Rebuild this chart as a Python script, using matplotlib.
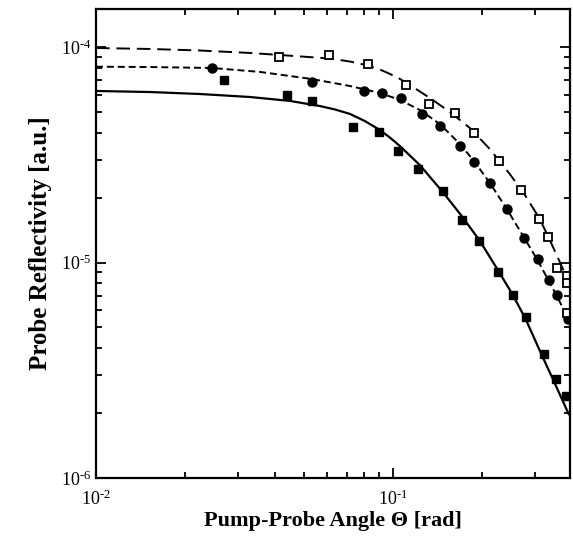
import matplotlib
matplotlib.use("Agg")
import matplotlib.pyplot as plt
from matplotlib.ticker import LogLocator, FixedLocator, FixedFormatter, NullFormatter

plt.rcParams['font.family'] = ['Liberation Serif', 'DejaVu Serif']
plt.rcParams['mathtext.fontset'] = 'custom'
plt.rcParams['mathtext.rm'] = 'Liberation Serif'
plt.rcParams['mathtext.it'] = 'Liberation Serif'

# ---- measured points ----
# open squares
x_open = [0.0413, 0.0607, 0.0822, 0.1106, 0.1325, 0.1613, 0.1870, 0.2280,
          0.2698, 0.3102, 0.3318, 0.3566, 0.3868, 0.3868, 0.3868]
y_open = [9.02e-5, 9.18e-5, 8.31e-5, 6.66e-5, 5.44e-5, 4.96e-5, 3.98e-5, 2.95e-5,
          2.16e-5, 1.59e-5, 1.31e-5, 9.38e-6, 8.66e-6, 8.03e-6, 5.81e-6]

# filled circles
x_circ = [0.0245, 0.0535, 0.0799, 0.0920, 0.1062, 0.1255, 0.1439, 0.1677,
          0.1870, 0.2126, 0.2420, 0.2768, 0.3084, 0.3352, 0.3566, 0.3883]
y_circ = [7.99e-5, 6.90e-5, 6.27e-5, 6.12e-5, 5.78e-5, 4.90e-5, 4.30e-5, 3.46e-5,
          2.93e-5, 2.33e-5, 1.77e-5, 1.30e-5, 1.04e-5, 8.27e-6, 7.09e-6, 5.45e-6]

# filled squares
x_sq = [0.0270, 0.0439, 0.0535, 0.0732, 0.0899, 0.1042, 0.1211, 0.1474,
        0.1707, 0.1948, 0.2252, 0.2529, 0.2804, 0.3232, 0.3530, 0.3815]
y_sq = [7.00e-5, 6.01e-5, 5.60e-5, 4.25e-5, 4.02e-5, 3.30e-5, 2.71e-5, 2.15e-5,
        1.58e-5, 1.26e-5, 9.03e-6, 7.04e-6, 5.59e-6, 3.76e-6, 2.88e-6, 2.40e-6]

# ---- fitted curves ----
x_fit_long = [0.0100, 0.0152, 0.0224, 0.0330, 0.0416, 0.0614, 0.0717, 0.0824, 0.0904, 0.0977,
              0.1056, 0.1141, 0.1332, 0.1556, 0.1817, 0.2121, 0.2477, 0.2783, 0.3126, 0.3377,
              0.3650, 0.3920]
y_fit_long = [9.89e-5, 9.79e-5, 9.63e-5, 9.38e-5, 9.18e-5, 8.84e-5, 8.56e-5, 8.21e-5, 7.86e-5, 7.50e-5,
              7.11e-5, 6.66e-5, 5.80e-5, 4.99e-5, 4.21e-5, 3.36e-5, 2.57e-5, 2.06e-5, 1.59e-5, 1.27e-5,
              1.005e-5, 8.03e-6]

x_fit_short = [0.0100, 0.0152, 0.0246, 0.0357, 0.0534, 0.0717, 0.0904, 0.1056, 0.1233,
               0.1439, 0.1681, 0.1874, 0.2121, 0.2420, 0.2761, 0.3078, 0.3352, 0.3566, 0.3914]
y_fit_short = [8.10e-5, 8.07e-5, 7.99e-5, 7.66e-5, 7.10e-5, 6.59e-5, 6.12e-5, 5.68e-5, 5.10e-5,
               4.39e-5, 3.55e-5, 2.96e-5, 2.34e-5, 1.77e-5, 1.31e-5, 1.02e-5, 8.20e-6, 6.99e-6, 5.41e-6]

x_fit_solid = [0.0100, 0.0152, 0.0224, 0.0330, 0.0450, 0.0568, 0.0638, 0.0717, 0.0805, 0.0904,
               0.0977, 0.1056, 0.1233, 0.1474, 0.1707, 0.1963, 0.2257, 0.2535, 0.2804, 0.3162,
               0.3457, 0.3910]
y_fit_solid = [6.25e-5, 6.18e-5, 6.05e-5, 5.86e-5, 5.62e-5, 5.32e-5, 5.13e-5, 4.89e-5, 4.53e-5, 4.12e-5,
               3.80e-5, 3.47e-5, 2.83e-5, 2.12e-5, 1.64e-5, 1.26e-5, 9.23e-6, 7.07e-6, 5.44e-6, 3.76e-6,
               2.88e-6, 1.98e-6]

xtick_vals = [0.01, 0.1]
xtick_text = ['$10^{\u20102}$', '$10^{\u20101}$']
ytick_vals = [1e-6, 1e-5, 1e-4]
ytick_text = ['$10^{\u20106}$', '$10^{\u20105}$', '$10^{\u20104}$']

fig = plt.figure(figsize=(5.73, 5.47), dpi=100)
ax = fig.add_axes([0.1675, 0.1261, 0.8273, 0.8574])

ax.plot(x_fit_solid, y_fit_solid, '-', color='black', lw=1.6)
ax.plot(x_fit_short, y_fit_short, color='black', lw=1.4, dashes=(3.6, 2))
ax.plot(x_fit_long, y_fit_long, color='black', lw=1.4, dashes=(7, 3.5))

ax.plot(x_sq, y_sq, 's', color='black', ms=6, mec='black')
ax.plot(x_circ, y_circ, 'o', color='black', ms=6.5, mec='black')
ax.plot(x_open, y_open, 's', mfc='white', mec='black', mew=1.3, ms=6)

ax.set_xscale('log')
ax.set_yscale('log')
ax.set_xlim(0.01, 0.395)
ax.set_ylim(1e-6, 1.5e-4)

ax.xaxis.set_major_locator(FixedLocator(xtick_vals))
ax.xaxis.set_major_formatter(FixedFormatter(xtick_text))
ax.xaxis.set_minor_locator(LogLocator(base=10, subs=range(2, 10)))
ax.xaxis.set_minor_formatter(NullFormatter())
ax.yaxis.set_major_locator(FixedLocator(ytick_vals))
ax.yaxis.set_major_formatter(FixedFormatter(ytick_text))
ax.yaxis.set_minor_locator(LogLocator(base=10, subs=range(2, 10)))
ax.yaxis.set_minor_formatter(NullFormatter())

ax.tick_params(which='both', direction='in', top=True, right=True, width=1.3, labelsize=13)
ax.tick_params(which='major', length=7)
ax.tick_params(which='minor', length=4)
ax.tick_params(axis='x', which='major', pad=8)
for s in ax.spines.values():
    s.set_linewidth(1.6)

ax.set_xlabel('Pump-Probe Angle Θ [rad]', fontsize=16, fontweight='bold', labelpad=2)
ax.set_ylabel('Probe Reflectivity [a.u.]', fontsize=18, fontweight='bold', labelpad=6)

fig.savefig('out.png', dpi=100)
